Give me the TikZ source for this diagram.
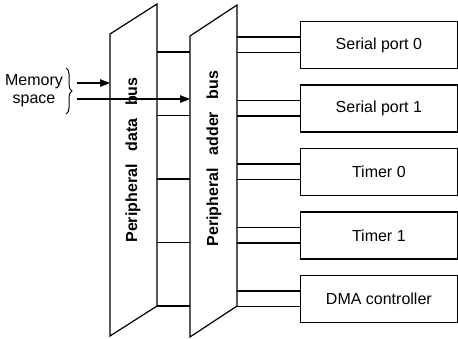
\documentclass[tikz,border=0pt]{standalone}
\usepackage{fontspec}
\setmainfont{Liberation Sans}
\usetikzlibrary{arrows.meta,decorations.pathreplacing,calc}

\begin{document}
\begin{tikzpicture}[x=1pt, y=-1pt, line width=1.2pt,
		every node/.style={font=\fontsize{16}{18}\selectfont},
		port/.style={draw, minimum width=156.5pt, minimum height=47pt, anchor=west, inner sep=0pt},
		buslabel/.style={rotate=90, font=\fontsize{16}{18}\selectfont\bfseries},
		feed/.style={-{Triangle[length=10pt,width=7.5pt]}}]
	\useasboundingbox (0,0) rectangle (458,338);
	% the two buses
	\draw (110,34) -- (157,4) -- (157,306) -- (110,336) -- cycle;
	\draw (190,36) -- (237,5) -- (237,306) -- (190,337) -- cycle;
	\node[buslabel] (databus) at (133,160) {Peripheral\hspace{0.8em}data\hspace{0.8em}bus};
	\node[buslabel] (adderbus) at (214,158.5) {Peripheral\hspace{0.8em}adder\hspace{0.8em}bus};
	% peripherals
	\foreach \y/\name/\txt in {45/sp0/Serial port 0, 108.5/sp1/Serial port 1, 172/tm0/Timer 0, 235.5/tm1/Timer 1, 299/dma/DMA controller} {
		\node[port] (\name) at (300,\y) {\txt};
		\draw (\name.west) ++(0,-8) -- ++(-63,0);
		\draw (\name.west) ++(0,7.5) -- ++(-63,0);
		\draw (\name.west) ++(-110,7) -- ++(-33,0);
	}
	% memory space
	\node[align=center] (mem) at (34,91) {Memory\\space};
	\draw[line width=1pt, decorate, decoration={brace, amplitude=6pt}] (66,68) -- (66,114);
	\coordinate (tip) at (77,91);
	\draw[feed] ($(tip)+(0,-8)$) -- (110,83);
	\draw[feed] ($(tip)+(0,8)$) -- (190,99);
\end{tikzpicture}
\end{document}
